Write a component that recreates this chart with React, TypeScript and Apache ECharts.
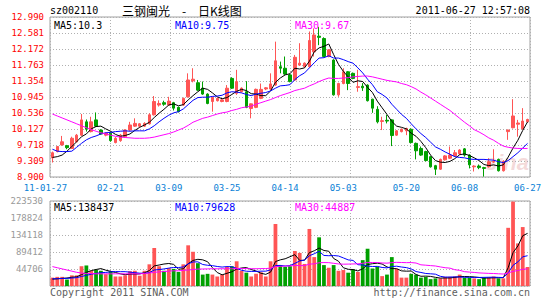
import React, { useEffect, useRef } from 'react';
import * as echarts from 'echarts';

const dates = [
  '01-27','01-28','01-31','02-01','02-09','02-10','02-11','02-14','02-15','02-16',
  '02-17','02-18','02-21','02-22','02-23','02-24','02-25','02-28','03-01','03-02',
  '03-03','03-04','03-07','03-08','03-09','03-10','03-11','03-14','03-15','03-16',
  '03-17','03-18','03-21','03-22','03-23','03-24','03-25','03-28','03-29','03-30',
  '03-31','04-01','04-06','04-07','04-08','04-11','04-12','04-13','04-14','04-15',
  '04-18','04-19','04-20','04-21','04-22','04-25','04-26','04-27','04-28','04-29',
  '05-03','05-04','05-05','05-06','05-09','05-10','05-11','05-12','05-13','05-16',
  '05-17','05-18','05-19','05-20','05-23','05-24','05-25','05-26','05-27','05-30',
  '05-31','06-01','06-02','06-03','06-07','06-08','06-09','06-10','06-13','06-14',
  '06-15','06-16','06-17','06-20','06-21','06-22','06-23','06-24','06-27'
];
const labelDays = [0, 12, 24, 36, 48, 60, 73, 85, 98];
const priceTicks = ['8.900','9.309','9.718','10.127','10.536','10.945','11.354','11.763','12.172','12.581','12.990'];

const open = [
  9.39, 9.55, 9.72, 9.70, 9.63, 9.80, 9.97, 10.31, 10.06, 10.36,
  10.10, 9.97, 10.02, 9.78, 9.83, 9.93, 10.10, 10.20, 10.20, 10.20,
  10.26, 10.49, 10.74, 10.80, 10.74, 10.80, 10.68, 10.74, 10.95, 11.36,
  11.31, 11.17, 11.02, 10.83, 10.85, 10.83, 10.83, 11.42, 11.04, 11.08,
  11.08, 10.65, 10.68, 10.91, 11.15, 11.15, 11.25, 11.72, 11.68, 11.51,
  11.38, 11.76, 11.72, 11.72, 12.10, 12.50, 12.44, 11.98, 11.89, 11.00,
  11.29, 11.59, 11.55, 11.19, 11.22, 11.25, 10.89, 10.63, 10.32, 10.35,
  10.36, 9.97, 10.06, 10.08, 10.12, 9.76, 9.63, 9.55, 9.42, 9.19,
  9.10, 9.34, 9.38, 9.44, 9.49, 9.62, 9.46, 9.16, 9.18, 9.14,
  9.16, 9.28, 9.35, 9.06, 10.06, 10.16, 10.25, 10.13, 10.31
];
const close = [
  9.52, 9.68, 9.80, 9.65, 9.89, 9.97, 10.36, 10.12, 10.31, 10.20,
  10.00, 10.02, 9.83, 9.89, 9.97, 10.10, 10.23, 10.27, 10.26, 10.27,
  10.49, 10.83, 10.78, 10.76, 10.84, 10.66, 10.57, 10.91, 11.38, 11.40,
  11.12, 11.02, 10.78, 10.94, 10.91, 10.87, 11.17, 11.17, 11.34, 11.17,
  10.68, 10.77, 11.14, 11.14, 11.18, 11.28, 11.87, 11.68, 11.53, 11.34,
  11.96, 11.81, 11.81, 12.39, 12.53, 12.47, 11.98, 12.15, 11.00, 11.29,
  11.59, 11.29, 11.42, 11.21, 11.18, 10.85, 10.66, 10.31, 10.34, 10.33,
  9.96, 10.08, 10.12, 10.14, 9.78, 9.57, 9.46, 9.32, 9.16, 9.10,
  9.35, 9.44, 9.46, 9.52, 9.59, 9.46, 9.21, 9.18, 9.14, 9.12,
  9.29, 9.30, 9.06, 9.30, 10.10, 10.46, 10.28, 10.33, 10.37
];
const low = [
  9.27, 9.53, 9.70, 9.61, 9.62, 9.78, 9.95, 10.06, 10.04, 10.18,
  9.98, 9.94, 9.80, 9.76, 9.80, 9.91, 10.08, 10.18, 10.17, 10.18,
  10.24, 10.47, 10.70, 10.72, 10.72, 10.60, 10.55, 10.72, 10.93, 11.32,
  11.10, 11.00, 10.76, 10.57, 10.83, 10.81, 10.81, 11.15, 11.00, 11.06,
  10.66, 10.40, 10.66, 10.89, 11.12, 11.13, 11.23, 11.55, 11.51, 11.32,
  11.36, 11.74, 11.70, 11.70, 11.98, 12.27, 11.96, 11.96, 10.98, 10.95,
  11.27, 11.12, 11.40, 11.08, 11.10, 10.83, 10.54, 10.27, 10.10, 10.27,
  9.69, 9.95, 10.04, 9.97, 9.76, 9.35, 9.44, 9.30, 9.14, 8.95,
  9.08, 9.32, 9.36, 9.42, 9.47, 9.42, 9.12, 9.04, 9.10, 8.91,
  9.14, 9.26, 9.04, 9.04, 9.85, 10.14, 9.93, 10.11, 10.29
];
const high = [
  9.55, 9.69, 9.95, 9.72, 9.93, 10.00, 10.51, 10.37, 10.44, 10.55,
  10.12, 10.04, 10.04, 9.92, 10.00, 10.12, 10.31, 10.40, 10.28, 10.30,
  10.53, 10.97, 10.86, 10.85, 10.95, 10.82, 10.70, 10.93, 11.55, 11.68,
  11.38, 11.34, 11.04, 10.95, 10.93, 10.89, 11.25, 11.45, 11.64, 11.19,
  11.35, 10.78, 11.16, 11.29, 11.20, 11.55, 12.36, 11.85, 11.98, 11.53,
  12.02, 12.32, 11.83, 12.62, 12.70, 12.74, 12.47, 12.17, 11.91, 11.31,
  11.68, 11.61, 11.57, 11.64, 11.30, 11.27, 10.90, 10.71, 10.44, 10.49,
  10.38, 10.10, 10.14, 10.16, 10.14, 9.78, 9.68, 9.57, 9.44, 9.21,
  9.37, 9.46, 9.68, 9.59, 9.61, 9.64, 9.48, 9.20, 9.22, 9.16,
  9.38, 9.61, 9.37, 9.33, 10.11, 10.89, 10.36, 10.66, 10.39
];
const ma5 = [
  9.40, 9.42, 9.46, 9.56, 9.68, 9.80, 9.93, 10.00, 10.13, 10.19,
  10.20, 10.13, 10.07, 9.99, 9.94, 9.96, 10.00, 10.09, 10.17, 10.23,
  10.30, 10.42, 10.53, 10.63, 10.74, 10.77, 10.72, 10.75, 10.87, 10.98,
  11.08, 11.17, 11.14, 11.05, 10.95, 10.90, 10.93, 11.01, 11.09, 11.14,
  11.11, 11.03, 11.02, 10.98, 10.98, 11.10, 11.32, 11.43, 11.51, 11.54,
  11.68, 11.66, 11.69, 11.86, 12.10, 12.20, 12.24, 12.30, 12.03, 11.78,
  11.60, 11.46, 11.32, 11.36, 11.34, 11.19, 11.06, 10.84, 10.67, 10.50,
  10.32, 10.20, 10.17, 10.13, 10.02, 9.94, 9.81, 9.65, 9.46, 9.32,
  9.28, 9.27, 9.30, 9.37, 9.47, 9.49, 9.45, 9.39, 9.32, 9.22,
  9.19, 9.21, 9.18, 9.21, 9.41, 9.64, 9.84, 10.09, 10.31
];
const ma10 = [
  9.61, 9.56, 9.55, 9.55, 9.56, 9.66, 9.76, 9.85, 9.91, 9.95,
  10.00, 10.03, 10.04, 10.06, 10.07, 10.08, 10.07, 10.08, 10.08, 10.08,
  10.13, 10.21, 10.31, 10.40, 10.48, 10.54, 10.57, 10.64, 10.75, 10.86,
  10.93, 10.94, 10.94, 10.96, 10.97, 10.99, 11.05, 11.08, 11.07, 11.05,
  11.01, 10.98, 11.02, 11.04, 11.06, 11.10, 11.17, 11.23, 11.24, 11.26,
  11.39, 11.49, 11.56, 11.69, 11.82, 11.94, 11.95, 12.00, 11.94, 11.94,
  11.90, 11.85, 11.81, 11.69, 11.56, 11.40, 11.26, 11.08, 11.01, 10.92,
  10.76, 10.63, 10.50, 10.40, 10.26, 10.13, 10.01, 9.91, 9.79, 9.67,
  9.61, 9.54, 9.48, 9.42, 9.40, 9.39, 9.36, 9.35, 9.35, 9.35,
  9.34, 9.33, 9.29, 9.27, 9.32, 9.42, 9.52, 9.64, 9.76
];
const ma30 = [
  10.51, 10.46, 10.41, 10.36, 10.31, 10.26, 10.21, 10.16, 10.11, 10.07,
  10.03, 10.00, 9.97, 9.94, 9.92, 9.91, 9.90, 9.89, 9.89, 9.89,
  9.90, 9.92, 9.95, 9.98, 10.01, 10.05, 10.10, 10.15, 10.22, 10.30,
  10.35, 10.40, 10.43, 10.47, 10.51, 10.54, 10.56, 10.60, 10.63, 10.67,
  10.69, 10.71, 10.76, 10.80, 10.84, 10.88, 10.93, 10.98, 11.02, 11.06,
  11.11, 11.14, 11.17, 11.23, 11.28, 11.34, 11.39, 11.43, 11.42, 11.42,
  11.43, 11.44, 11.46, 11.47, 11.48, 11.48, 11.46, 11.43, 11.40, 11.37,
  11.35, 11.33, 11.29, 11.26, 11.21, 11.15, 11.07, 11.00, 10.92, 10.84,
  10.76, 10.68, 10.60, 10.50, 10.40, 10.30, 10.21, 10.11, 10.05, 9.98,
  9.90, 9.84, 9.76, 9.69, 9.66, 9.64, 9.63, 9.63, 9.63
];
// volumes in thousands of lots
const volK = [
  22, 24, 24, 17, 28, 28, 52, 54, 40, 43,
  40, 31, 39, 25, 25, 28, 39, 40, 27, 40,
  57, 100, 52, 40, 47, 45, 37, 57, 107, 90,
  60, 30, 32, 30, 25, 30, 50, 52, 65, 40,
  35, 25, 32, 36, 25, 65, 163, 55, 50, 52,
  92, 87, 58, 150, 76, 128, 55, 48, 55, 40,
  42, 35, 44, 37, 68, 98, 46, 51, 26, 30,
  76, 45, 22, 22, 32, 30, 22, 24, 18, 20,
  20, 24, 24, 25, 30, 22, 22, 20, 18, 22,
  23, 25, 20, 20, 153, 222, 112, 155, 50
];
const volMa5K = [
  18, 19, 20, 21, 23, 24.2, 29.8, 35.8, 40.4, 43.4,
  45.8, 41.6, 38.6, 35.6, 32, 29.6, 31.2, 31.4, 31.8, 34.8,
  40.6, 52.8, 55.2, 57.8, 59.2, 56.8, 44.2, 45.2, 58.6, 67.2,
  70.2, 68.8, 63.8, 48.4, 35.4, 29.4, 33.4, 37.4, 44.4, 47.4,
  48.4, 43.4, 39.4, 33.6, 30.6, 36.6, 64.2, 68.8, 71.6, 77,
  82.4, 67.2, 67.8, 87.8, 92.6, 99.8, 93.4, 91.4, 72.4, 65.2,
  48, 44, 43.2, 39.6, 45.2, 56.4, 58.6, 60, 57.8, 50.2,
  45.8, 45.6, 39.8, 39, 39.4, 30.2, 25.6, 26, 25.2, 22.8,
  20.8, 21.2, 21.2, 22.6, 24.6, 25, 24.6, 23.8, 22.4, 20.8,
  21, 21.6, 21.6, 22, 48.2, 87.8, 105.2, 132.2, 138.4
];
const volMa10K = [
  19, 19, 20, 20, 21, 22, 25, 28, 31, 33.2,
  35, 35.7, 37.2, 38, 37.7, 37.7, 36.4, 35, 33.7, 33.4,
  35.1, 42, 43.3, 44.8, 47, 48.7, 48.5, 50.2, 58.2, 63.2,
  63.5, 56.5, 54.5, 53.5, 51.3, 49.8, 51.1, 50.6, 46.4, 41.4,
  38.9, 38.4, 38.4, 39, 39, 42.5, 53.8, 54.1, 52.6, 53.8,
  59.5, 65.7, 68.3, 79.7, 84.8, 91.1, 80.3, 79.6, 80.1, 78.9,
  73.9, 68.7, 67.3, 56, 55.2, 52.2, 51.3, 51.6, 48.7, 47.7,
  51.1, 52.1, 49.9, 48.4, 44.8, 38, 35.6, 32.9, 32.1, 31.1,
  25.5, 23.4, 23.6, 23.9, 23.7, 22.9, 22.9, 22.5, 22.5, 22.7,
  23, 23.1, 22.7, 22.2, 34.5, 54.4, 63.4, 76.9, 79.6
];
const volMa30K = [
  51, 48, 45, 42, 39, 36, 34, 33, 33, 32,
  32, 32, 32, 32, 32, 32, 32, 32, 32, 33,
  34, 36, 37, 38, 39, 40, 40, 41, 42, 43.3,
  44.5, 44.7, 45, 45.4, 45.3, 45.4, 45.3, 45.3, 46.1, 46,
  45.8, 45.6, 45.4, 45.8, 45.8, 47, 51.1, 51.6, 52.4, 52.8,
  54, 53.5, 53.7, 57.4, 58.4, 61.1, 61.7, 61.4, 59.7, 58,
  57.4, 57.6, 58, 58.2, 59.7, 61.9, 61.8, 61.8, 60.5, 60.1,
  61.5, 62.2, 61.8, 61.4, 61.6, 60.4, 55.7, 54.7, 53.6, 52.6,
  50.2, 48.1, 46.9, 42.8, 41.2, 37.7, 36.6, 35.7, 34.4, 33.8,
  33.2, 32.9, 32.1, 31.5, 34.3, 38.4, 40.6, 44.1, 44.9
];

const UP = '#ff5555';
const DOWN = '#00a000';
const MONO = '"DejaVu Sans Mono", "Liberation Mono", monospace';
const CJK = '"Noto Sans CJK SC", sans-serif';

export default function App() {
  const ref = useRef<HTMLDivElement>(null);
  useEffect(() => {
    const chart = echarts.init(ref.current as HTMLDivElement, null, { renderer: 'svg' });
    const gridLine = { show: true, lineStyle: { color: '#b0b0b0', type: [1, 2], width: 1 } };
    const noAxis = { axisLine: { show: false }, axisTick: { show: false } };
    const candleData = open.map((o, i) => [o, close[i], low[i], high[i]]);
    const volData = volK.map((v, i) => ({
      value: v,
      itemStyle: { color: close[i] >= open[i] ? UP : DOWN },
    }));
    const line = (name: string, data: number[], color: string, xi: number, yi: number) => ({
      name, type: 'line', data, xAxisIndex: xi, yAxisIndex: yi, symbol: 'none', showSymbol: false,
      lineStyle: { color, width: 1 }, itemStyle: { color }, z: 4, silent: true,
    });
    const txt = (x: number, y: number, text: string, fill: string, extra: any = {}) => ({
      type: 'text', x, y, silent: true, z: 10,
      style: { text, fill, font: `10px ${MONO}`, verticalAlign: 'middle', ...extra },
    });
    const option: any = {
      animation: false,
      textStyle: { fontFamily: MONO },
      grid: [
        { left: 50, top: 17, width: 480, height: 160, show: true, borderColor: '#a0a0a0', borderWidth: 1, backgroundColor: 'transparent' },
        { left: 50, top: 201, width: 480, height: 85, show: true, borderColor: '#a0a0a0', borderWidth: 1, backgroundColor: 'transparent' },
      ],
      xAxis: [
        {
          type: 'category', gridIndex: 0, data: dates, boundaryGap: true, ...noAxis,
          splitLine: { show: false },
          axisLabel: {
            interval: (i: number) => labelDays.includes(i),
            formatter: (v: string, i: number) => (i === 0 ? `{first|11-${v}}` : v),
            color: '#0a7fd6', fontSize: 9, fontFamily: MONO, margin: 6,
            rich: { first: { padding: [0, 14, 0, 0], color: '#0a7fd6', fontSize: 9, fontFamily: MONO } },
          },
        },
        { type: 'value', gridIndex: 0, min: 0, max: 8, interval: 1, ...noAxis, axisLabel: { show: false }, splitLine: gridLine },
        { type: 'category', gridIndex: 1, data: dates, boundaryGap: true, ...noAxis, axisLabel: { show: false }, splitLine: { show: false } },
        { type: 'value', gridIndex: 1, min: 0, max: 8, interval: 1, ...noAxis, axisLabel: { show: false }, splitLine: gridLine },
      ],
      yAxis: [
        { type: 'value', gridIndex: 0, min: 8.9, max: 12.99, show: false, position: 'right' },
        {
          type: 'value', gridIndex: 0, min: 0, max: 10, interval: 1, position: 'left', ...noAxis,
          axisLabel: { formatter: (v: number) => priceTicks[Math.round(v)], color: '#ff0000', fontSize: 9, fontFamily: MONO, margin: 6 },
          splitLine: gridLine,
        },
        {
          type: 'value', gridIndex: 1, min: 0, max: 223.53, interval: 44.706, position: 'left', ...noAxis,
          axisLabel: {
            formatter: (v: number) => (v === 0 ? '' : String(Math.round(v * 1000))),
            color: '#999999', fontSize: 9, fontFamily: MONO, margin: 7,
          },
          splitLine: gridLine,
        },
      ],
      series: [
        {
          type: 'candlestick', xAxisIndex: 0, yAxisIndex: 0, data: candleData, barWidth: 3, silent: true,
          itemStyle: { color: UP, color0: DOWN, borderColor: UP, borderColor0: DOWN, borderWidth: 1 },
        },
        line('MA5', ma5, '#000000', 0, 0),
        line('MA10', ma10, '#0000ff', 0, 0),
        line('MA30', ma30, '#ff00ff', 0, 0),
        { type: 'bar', xAxisIndex: 2, yAxisIndex: 2, data: volData, barWidth: '78%', silent: true },
        line('VMA5', volMa5K, '#000000', 2, 2),
        line('VMA10', volMa10K, '#0000ff', 2, 2),
        line('VMA30', volMa30K, '#ff00ff', 2, 2),
      ],
      graphic: [
        {
          type: 'text', x: 529, y: 162, z: 0, silent: true,
          style: { text: 'sina', fill: 'rgba(225,150,150,0.35)', font: `italic bold 22px sans-serif`, align: 'right', verticalAlign: 'middle' },
        },
        txt(50, 10, 'sz002110', '#000000'),
        {
          type: 'text', x: 122, y: 10, silent: true, z: 10,
          style: {
            text: '{a|三钢闽光}{b| - }{a|日K线图}', verticalAlign: 'middle',
            rich: {
              a: { fontFamily: CJK, fontSize: 12, fill: '#000000', color: '#000000' },
              b: { fontFamily: CJK, fontSize: 12, width: 28, align: 'center', fill: '#000000', color: '#000000' },
            },
          },
        },
        txt(530, 10, '2011-06-27 12:57:08', '#000000', { align: 'right' }),
        txt(54, 25, 'MA5:10.3', '#000000'),
        txt(175, 25, 'MA10:9.75', '#0000ff'),
        txt(295, 25, 'MA30:9.67', '#ff00ff'),
        txt(54, 207, 'MA5:138437', '#000000'),
        txt(175, 207, 'MA10:79628', '#0000ff'),
        txt(295, 207, 'MA30:44887', '#ff00ff'),
        txt(50, 292, 'Copyright 2011 SINA.COM', '#606060'),
        txt(530, 292, 'http://finance.sina.com.cn', '#606060', { align: 'right' }),
      ],
    };
    chart.setOption(option);
    return () => chart.dispose();
  }, []);
  return (
    <div
      ref={ref}
      style={{ position: 'fixed', left: 0, top: 0, width: 545, height: 300, background: '#ffffff' }}
    />
  );
}
